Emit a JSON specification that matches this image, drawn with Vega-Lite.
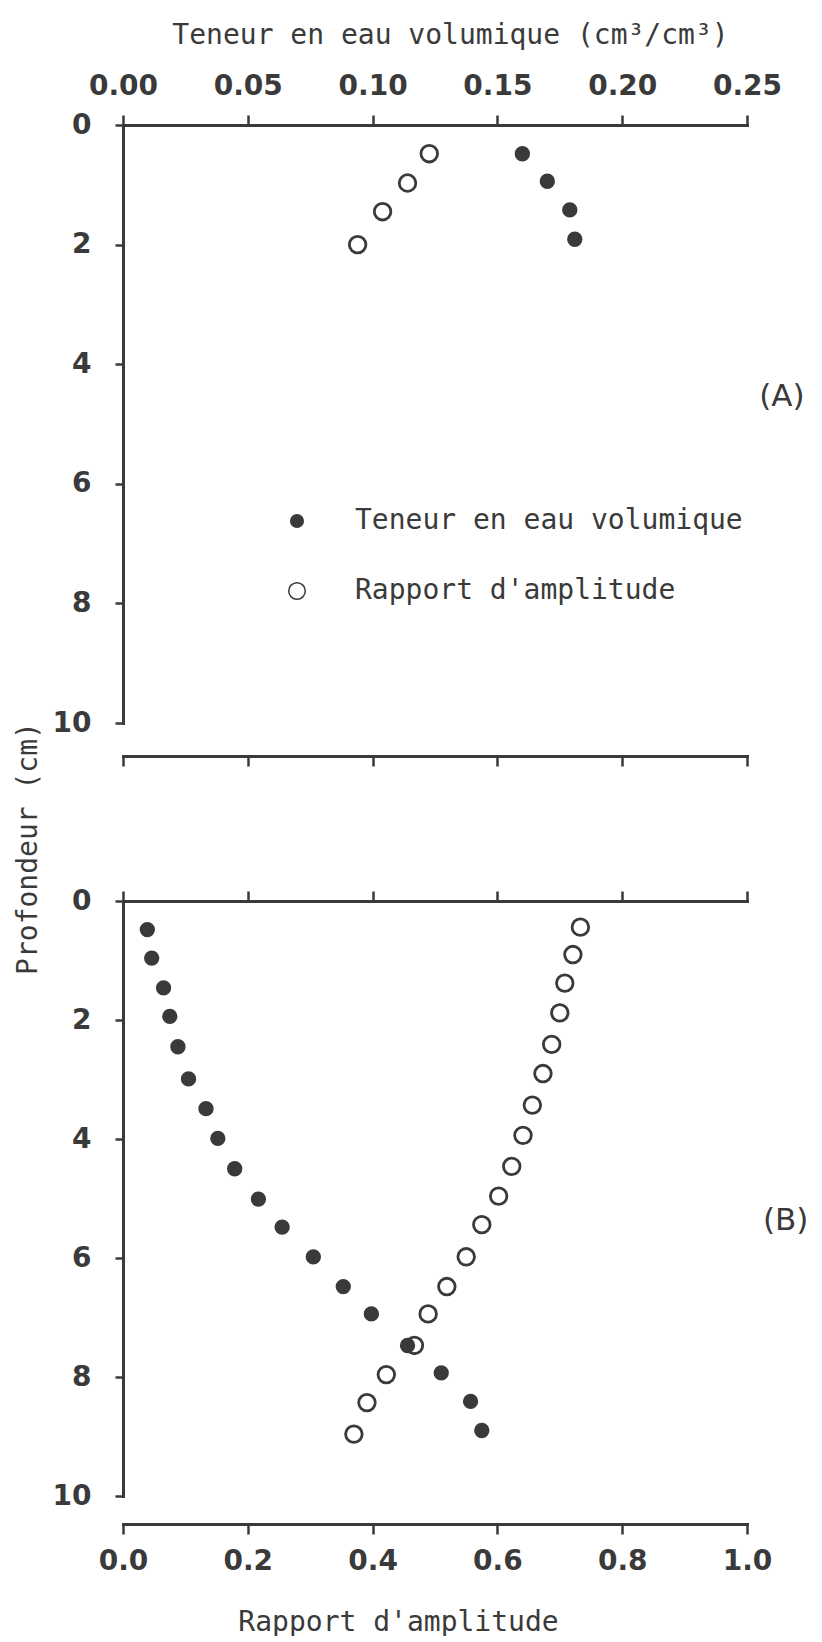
{
  "$schema": "https://vega.github.io/schema/vega-lite/v6.json",
  "background": "white",
  "padding": {"left": 14, "top": 21, "right": 0, "bottom": 0},
  "bounds": "flush",
  "spacing": 178,
  "config": {
    "view": {"stroke": null},
    "axis": {
      "grid": false,
      "labelFlush": false,
      "labelOverlap": false,
      "domainColor": "#3a3a3a",
      "domainWidth": 3,
      "domainCap": "square",
      "tickColor": "#3a3a3a",
      "tickWidth": 2.5,
      "tickSize": 10,
      "labelColor": "#3a3a3a",
      "labelFont": "DejaVu Sans",
      "labelFontWeight": "bold",
      "labelFontSize": 28,
      "titleColor": "#3a3a3a",
      "titleFont": "DejaVu Sans Mono",
      "titleFontWeight": "normal",
      "titleFontSize": 28
    },
    "legend": {
      "labelFont": "DejaVu Sans Mono",
      "labelFontSize": 28,
      "labelColor": "#3a3a3a",
      "labelLimit": 1000
    }
  },
  "resolve": {"scale": {"fill": "independent", "size": "independent"}},
  "vconcat": [
    {
      "width": 624,
      "height": 598,
      "layer": [
        {
          "data": {
            "values": [
              {"serie": "Teneur en eau volumique", "x": 0.160, "depth": 0.48},
              {"serie": "Teneur en eau volumique", "x": 0.170, "depth": 0.94},
              {"serie": "Teneur en eau volumique", "x": 0.179, "depth": 1.42},
              {"serie": "Teneur en eau volumique", "x": 0.181, "depth": 1.91},
              {"serie": "Rapport d'amplitude", "x": 0.1227, "depth": 0.48},
              {"serie": "Rapport d'amplitude", "x": 0.114, "depth": 0.97},
              {"serie": "Rapport d'amplitude", "x": 0.104, "depth": 1.45},
              {"serie": "Rapport d'amplitude", "x": 0.094, "depth": 2.0}
            ]
          },
          "mark": {"type": "circle", "opacity": 1, "stroke": "#3a3a3a", "strokeWidth": 2.8},
          "encoding": {
            "x": {
              "field": "x", "type": "quantitative",
              "scale": {"domain": [0, 0.25], "nice": false, "zero": false},
              "axis": {
                "orient": "top",
                "values": [0, 0.05, 0.1, 0.15, 0.2, 0.25],
                "format": ".2f",
                "labelPadding": 15,
                "title": "Teneur en eau volumique (cm³/cm³)",
                "titleX": 327,
                "titleY": -82,
                "titleAlign": "center",
                "titleBaseline": "alphabetic",
                "titleAngle": 0
              }
            },
            "y": {
              "field": "depth", "type": "quantitative",
              "scale": {"domain": [0, 10], "reverse": true, "nice": false},
              "axis": {
                "values": [0, 2, 4, 6, 8, 10],
                "format": "d",
                "tickSize": 8,
                "labelPadding": 24,
                "title": "Profondeur (cm)",
                "titleX": -95,
                "titleY": 723,
                "titleAngle": -90,
                "titleAlign": "center",
                "titleBaseline": "middle"
              }
            },
            "fill": {
              "field": "serie", "type": "nominal",
              "scale": {"domain": ["Teneur en eau volumique", "Rapport d'amplitude"], "range": ["#3a3a3a", "transparent"]},
              "legend": {
                "orient": "none", "legendX": 160, "legendY": 382, "title": null,
                "padding": 0, "rowPadding": 42, "labelOffset": 44,
                "symbolType": "circle", "symbolSize": 240,
                "encode": {
                  "symbols": {
                    "update": {
                      "stroke": {"value": "#3a3a3a"},
                      "strokeWidth": {"value": 2.8}
                    }
                  }
                }
              }
            },
            "size": {
              "field": "serie", "type": "nominal",
              "scale": {"domain": ["Teneur en eau volumique", "Rapport d'amplitude"], "range": [158, 275]},
              "legend": {
                "orient": "none", "legendX": 160, "legendY": 382, "title": null,
                "padding": 0, "rowPadding": 42, "labelOffset": 44,
                "symbolType": "circle", "symbolSize": 240,
                "encode": {
                  "symbols": {
                    "update": {
                      "stroke": {"value": "#3a3a3a"},
                      "strokeWidth": {"value": 2.8}
                    }
                  }
                }
              }
            }
          }
        },
        {
          "data": {"values": [{"label": "(A)"}]},
          "mark": {"type": "text", "font": "DejaVu Sans", "fontSize": 31, "color": "#3a3a3a", "align": "center", "baseline": "middle"},
          "encoding": {
            "x": {
              "datum": 0.264, "type": "quantitative",
              "axis": {"orient": "bottom", "offset": 33, "values": [0, 0.05, 0.1, 0.15, 0.2, 0.25], "labels": false, "title": null}
            },
            "y": {"datum": 4.55, "type": "quantitative"},
            "text": {"field": "label"}
          }
        }
      ],
      "resolve": {"axis": {"x": "independent"}}
    },
    {
      "width": 624,
      "height": 595,
      "layer": [
        {
          "data": {
            "values": [
              {"serie": "Teneur en eau volumique", "x": 0.039, "depth": 0.48},
              {"serie": "Teneur en eau volumique", "x": 0.046, "depth": 0.96},
              {"serie": "Teneur en eau volumique", "x": 0.065, "depth": 1.46},
              {"serie": "Teneur en eau volumique", "x": 0.075, "depth": 1.94},
              {"serie": "Teneur en eau volumique", "x": 0.088, "depth": 2.45},
              {"serie": "Teneur en eau volumique", "x": 0.105, "depth": 2.99},
              {"serie": "Teneur en eau volumique", "x": 0.133, "depth": 3.49},
              {"serie": "Teneur en eau volumique", "x": 0.152, "depth": 3.99},
              {"serie": "Teneur en eau volumique", "x": 0.179, "depth": 4.50},
              {"serie": "Teneur en eau volumique", "x": 0.217, "depth": 5.01},
              {"serie": "Teneur en eau volumique", "x": 0.255, "depth": 5.48},
              {"serie": "Teneur en eau volumique", "x": 0.305, "depth": 5.98},
              {"serie": "Teneur en eau volumique", "x": 0.353, "depth": 6.48},
              {"serie": "Teneur en eau volumique", "x": 0.398, "depth": 6.94},
              {"serie": "Teneur en eau volumique", "x": 0.456, "depth": 7.47},
              {"serie": "Teneur en eau volumique", "x": 0.510, "depth": 7.93},
              {"serie": "Teneur en eau volumique", "x": 0.557, "depth": 8.41},
              {"serie": "Teneur en eau volumique", "x": 0.575, "depth": 8.90},
              {"serie": "Rapport d'amplitude", "x": 0.733, "depth": 0.44},
              {"serie": "Rapport d'amplitude", "x": 0.721, "depth": 0.90},
              {"serie": "Rapport d'amplitude", "x": 0.708, "depth": 1.38},
              {"serie": "Rapport d'amplitude", "x": 0.700, "depth": 1.88},
              {"serie": "Rapport d'amplitude", "x": 0.687, "depth": 2.41},
              {"serie": "Rapport d'amplitude", "x": 0.673, "depth": 2.90},
              {"serie": "Rapport d'amplitude", "x": 0.656, "depth": 3.43},
              {"serie": "Rapport d'amplitude", "x": 0.641, "depth": 3.94},
              {"serie": "Rapport d'amplitude", "x": 0.623, "depth": 4.46},
              {"serie": "Rapport d'amplitude", "x": 0.602, "depth": 4.96},
              {"serie": "Rapport d'amplitude", "x": 0.575, "depth": 5.44},
              {"serie": "Rapport d'amplitude", "x": 0.550, "depth": 5.98},
              {"serie": "Rapport d'amplitude", "x": 0.519, "depth": 6.48},
              {"serie": "Rapport d'amplitude", "x": 0.489, "depth": 6.94},
              {"serie": "Rapport d'amplitude", "x": 0.467, "depth": 7.47},
              {"serie": "Rapport d'amplitude", "x": 0.422, "depth": 7.96},
              {"serie": "Rapport d'amplitude", "x": 0.391, "depth": 8.43},
              {"serie": "Rapport d'amplitude", "x": 0.370, "depth": 8.96}
            ]
          },
          "mark": {"type": "circle", "opacity": 1, "stroke": "#3a3a3a", "strokeWidth": 2.8},
          "encoding": {
            "x": {
              "field": "x", "type": "quantitative",
              "scale": {"domain": [0, 1], "nice": false, "zero": false},
              "axis": {"orient": "top", "values": [0, 0.2, 0.4, 0.6, 0.8, 1.0], "labels": false, "title": null}
            },
            "y": {
              "field": "depth", "type": "quantitative",
              "scale": {"domain": [0, 10], "reverse": true, "nice": false},
              "axis": {"values": [0, 2, 4, 6, 8, 10], "format": "d", "tickSize": 8, "labelPadding": 24, "title": null}
            },
            "fill": {
              "field": "serie", "type": "nominal",
              "scale": {"domain": ["Teneur en eau volumique", "Rapport d'amplitude"], "range": ["#3a3a3a", "transparent"]},
              "legend": null
            },
            "size": {
              "field": "serie", "type": "nominal",
              "scale": {"domain": ["Teneur en eau volumique", "Rapport d'amplitude"], "range": [158, 275]},
              "legend": null
            }
          }
        },
        {
          "data": {"values": [{"label": "(B)"}]},
          "mark": {"type": "text", "font": "DejaVu Sans", "fontSize": 31, "color": "#3a3a3a", "align": "center", "baseline": "middle"},
          "encoding": {
            "x": {
              "datum": 1.062, "type": "quantitative",
              "axis": {
                "orient": "bottom", "offset": 28, "values": [0, 0.2, 0.4, 0.6, 0.8, 1.0], "format": ".1f",
                "labelPadding": 13,
                "title": "Rapport d'amplitude",
                "titleX": 275,
                "titleY": 106,
                "titleAlign": "center",
                "titleBaseline": "alphabetic",
                "titleAngle": 0
              }
            },
            "y": {"datum": 5.38, "type": "quantitative"},
            "text": {"field": "label"}
          }
        }
      ],
      "resolve": {"axis": {"x": "independent"}}
    }
  ]
}
